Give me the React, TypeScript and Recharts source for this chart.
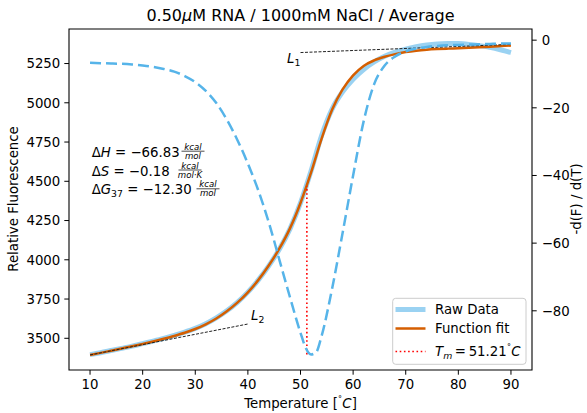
import React from "react";
import { ComposedChart, Line, XAxis, YAxis, ReferenceArea } from "recharts";

// melt curve, 0.50uM RNA / 1000mM NaCl
const TEMPS = [
  10, 12, 14, 16, 18, 20, 22, 24, 26, 28, 30, 32, 34, 36, 38, 40, 42, 44, 46, 48, 50,
  52, 54, 56, 58, 60, 62, 64, 66, 68, 70, 72, 74, 76, 78, 80, 82, 84, 86, 88, 90,
];
const RAW_F = [
  3396, 3408, 3422, 3436, 3450, 3466, 3482, 3499, 3518, 3539, 3563, 3593, 3630, 3675, 3729,
  3794, 3872, 3963, 4068, 4197, 4362, 4565, 4790, 4960, 5070, 5150, 5212, 5260, 5296, 5322,
  5342, 5357, 5368, 5375, 5378, 5377, 5372, 5364, 5353, 5338, 5320,
];
const FIT_F = [
  3394, 3407, 3421, 3435, 3449, 3464, 3480, 3497, 3515, 3535, 3559, 3589, 3626, 3672, 3727,
  3793, 3872, 3965, 4072, 4200, 4362, 4555, 4770, 4955, 5085, 5175, 5235, 5270, 5293, 5310,
  5323, 5332, 5338, 5342, 5345, 5348, 5351, 5354, 5357, 5361, 5365,
];
const DERIV_TEMPS = [
  10, 12, 14, 16, 18, 20, 22, 24, 26, 28, 30, 32, 34, 36, 38, 40, 42, 44, 46, 48, 50, 51,
  52, 53, 54, 56, 58, 60, 62, 64, 66, 68, 70, 72, 74, 76, 78, 80, 82, 84, 86, 88, 90,
];
const DERIV = [
  -6.7, -6.8, -6.9, -7.0, -7.2, -7.5, -7.9, -8.5, -9.3, -10.6, -12.4, -15.0, -18.6, -23.5,
  -29.5, -36.5, -44.5, -54, -65, -76, -86.5, -91, -92.9, -92.2, -87.5, -73.5, -57, -40, -24,
  -13, -7.5, -4.8, -3.3, -2.5, -2.0, -1.7, -1.5, -1.4, -1.3, -1.2, -1.1, -1.0, -1.0,
];
const L1_T = [50, 90];
const L1_F = [5320, 5372];
const L2_T = [10, 40];
const L2_F = [3394, 3591];
const TM = 51.21;
const TM_F = [3397, 4470];

const X_TICKS = [10, 20, 30, 40, 50, 60, 70, 80, 90];
const LEFT_TICKS = [3500, 3750, 4000, 4250, 4500, 4750, 5000, 5250];
const RIGHT_TICKS = [-80, -60, -40, -20, 0];

const FONT = "'DejaVu Sans', sans-serif";
const SKY = "#56B4E9";
const ORANGE = "#D55E00";

const rawData = TEMPS.map((T, i) => ({ T, F: RAW_F[i] }));
const fitData = TEMPS.map((T, i) => ({ T, F: FIT_F[i] }));
const derivData = DERIV_TEMPS.map((T, i) => ({ T, D: DERIV[i] }));
const l1Data = L1_T.map((T, i) => ({ T, F: L1_F[i] }));
const l2Data = L2_T.map((T, i) => ({ T, F: L2_F[i] }));
const tmData = TM_F.map((F) => ({ T: TM, F }));

const tickStyle = { fill: "#000", fontSize: 13.3, fontFamily: FONT };
const fmtMinus = (v: number) => (v < 0 ? "\u2212" + Math.abs(v) : String(v));

// small stacked fraction like matplotlib's \frac
const Frac = ({ cx, base, top, bottom }: { cx: number; base: number; top: React.ReactNode; bottom: React.ReactNode }) => {
  const bar = base - 5.5;
  return (
    <g fontSize={8.6} fontStyle="italic" textAnchor="middle">
      <text x={cx} y={bar - 1.5}>{top}</text>
      <line x1={cx - 11.5} x2={cx + 11.5} y1={bar} y2={bar} stroke="#000" strokeWidth={0.7} />
      <text x={cx} y={bar + 7.6}>{bottom}</text>
    </g>
  );
};

const Overlay = () => (
  <svg
    width={587}
    height={413}
    style={{ position: "absolute", left: 0, top: 0, pointerEvents: "none" }}
    fontFamily={FONT}
  >
    <text x={300.5} y={20.5} fontSize={16} textAnchor="middle">
      0.50<tspan fontStyle="italic">μ</tspan>M RNA / 1000mM NaCl / Average
    </text>
    <text x={300.5} y={408} fontSize={13.3} textAnchor="middle">
      Temperature [<tspan fontSize={9} dy={-5}>˚</tspan><tspan fontStyle="italic" dy={5}>C</tspan>]
    </text>
    <text transform="translate(18,199) rotate(-90)" fontSize={13.3} textAnchor="middle">
      Relative Fluorescence
    </text>
    <text transform="translate(581,199) rotate(-90)" fontSize={13.3} textAnchor="middle">
      -d(F) / d(T)
    </text>

    {/* thermodynamic values */}
    <g fontSize={13.3}>
      <text x={91.7} y={156.7}>
        Δ<tspan fontStyle="italic">H</tspan>{" = \u221266.83"}
      </text>
      <Frac cx={193} base={156.7} top="kcal" bottom="mol" />
      <text x={91.7} y={175.5}>
        Δ<tspan fontStyle="italic">S</tspan>{" = \u22120.18"}
      </text>
      <Frac cx={190} base={175.5} top="kcal" bottom={"mol\u00b7K"} />
      <text x={91.7} y={194.3}>
        Δ<tspan fontStyle="italic">G</tspan>
        <tspan fontSize={9.3} dy={2.5}>37</tspan>
        <tspan dy={-2.5}>{" = \u221212.30"}</tspan>
      </text>
      <Frac cx={208} base={194.3} top="kcal" bottom="mol" />
    </g>

    {/* baseline labels */}
    <text x={287} y={63} fontSize={13.3} fontStyle="italic">
      L<tspan fontSize={9.3} fontStyle="normal" dy={3}>1</tspan>
    </text>
    <text x={251} y={320} fontSize={13.3} fontStyle="italic">
      L<tspan fontSize={9.3} fontStyle="normal" dy={3}>2</tspan>
    </text>

    {/* legend */}
    <rect x={392.7} y={298.3} width={133.3} height={66} rx={3} fill="#fff" fillOpacity={0.8} stroke="#ccc" strokeWidth={1} />
    <line x1={395.5} x2={425.5} y1={309.5} y2={309.5} stroke={SKY} strokeOpacity={0.6} strokeWidth={5} />
    <text x={435} y={314} fontSize={13.3}>Raw Data</text>
    <line x1={395.5} x2={425.5} y1={328.5} y2={328.5} stroke={ORANGE} strokeWidth={2.5} />
    <text x={435} y={333} fontSize={13.3}>Function fit</text>
    <line x1={395.5} x2={425.5} y1={351.5} y2={351.5} stroke="#ff0000" strokeWidth={1.6} strokeDasharray="1.6 2.6" />
    <text x={435} y={356} fontSize={13.3}>
      <tspan fontStyle="italic">T</tspan>
      <tspan fontSize={9.3} fontStyle="italic" dy={3}>m</tspan>
      <tspan dy={-3}>{"\u2009=\u200951.21"}</tspan>
      <tspan fontSize={9} dy={-5}>˚</tspan>
      <tspan fontStyle="italic" dy={5}>C</tspan>
    </text>
  </svg>
);

export default function App() {
  return (
    <div style={{ position: "absolute", left: 0, top: 0, width: 587, height: 413, background: "#fff" }}>
      <ComposedChart width={587} height={413} margin={{ top: 29, right: 0, bottom: 0, left: 0 }}>
        <XAxis
          dataKey="T"
          type="number"
          domain={[6, 94]}
          ticks={X_TICKS}
          allowDataOverflow
          height={43}
          tick={tickStyle}
          tickSize={4.7}
          tickMargin={5}
          tickLine={{ stroke: "#000" }}
          axisLine={false}
        />
        <YAxis
          yAxisId="left"
          type="number"
          domain={[3298, 5470]}
          ticks={LEFT_TICKS}
          allowDataOverflow
          width={69}
          tick={tickStyle}
          tickSize={4.7}
          tickMargin={4}
          tickLine={{ stroke: "#000" }}
          axisLine={false}
        />
        <YAxis
          yAxisId="right"
          orientation="right"
          type="number"
          domain={[-97.5, 3.3]}
          ticks={RIGHT_TICKS}
          allowDataOverflow
          width={55}
          tick={tickStyle}
          tickFormatter={fmtMinus}
          tickSize={4.7}
          tickMargin={5}
          tickLine={{ stroke: "#000" }}
          axisLine={false}
        />

        <Line yAxisId="left" data={rawData} dataKey="F" type="monotone" stroke={SKY} strokeOpacity={0.6} strokeWidth={5} dot={false} isAnimationActive={false} />
        <Line yAxisId="left" data={fitData} dataKey="F" type="monotone" stroke={ORANGE} strokeWidth={2.5} dot={false} isAnimationActive={false} />
        <Line yAxisId="left" data={l1Data} dataKey="F" type="linear" stroke="#222" strokeWidth={1} strokeDasharray="3 1.5" dot={false} isAnimationActive={false} />
        <Line yAxisId="left" data={l2Data} dataKey="F" type="linear" stroke="#222" strokeWidth={1} strokeDasharray="3 1.5" dot={false} isAnimationActive={false} />
        <Line yAxisId="left" data={tmData} dataKey="F" type="linear" stroke="#ff0000" strokeWidth={1.6} strokeDasharray="1.6 2.6" dot={false} isAnimationActive={false} />
        <Line yAxisId="right" data={derivData} dataKey="D" type="monotone" stroke={SKY} strokeWidth={2.5} strokeDasharray="11 5" dot={false} isAnimationActive={false} />

        <ReferenceArea yAxisId="left" x1={6} x2={94} y1={3298} y2={5470} fill="none" stroke="#000" strokeWidth={1.1} ifOverflow="extendDomain" />
      </ComposedChart>
      <Overlay />
    </div>
  );
}
